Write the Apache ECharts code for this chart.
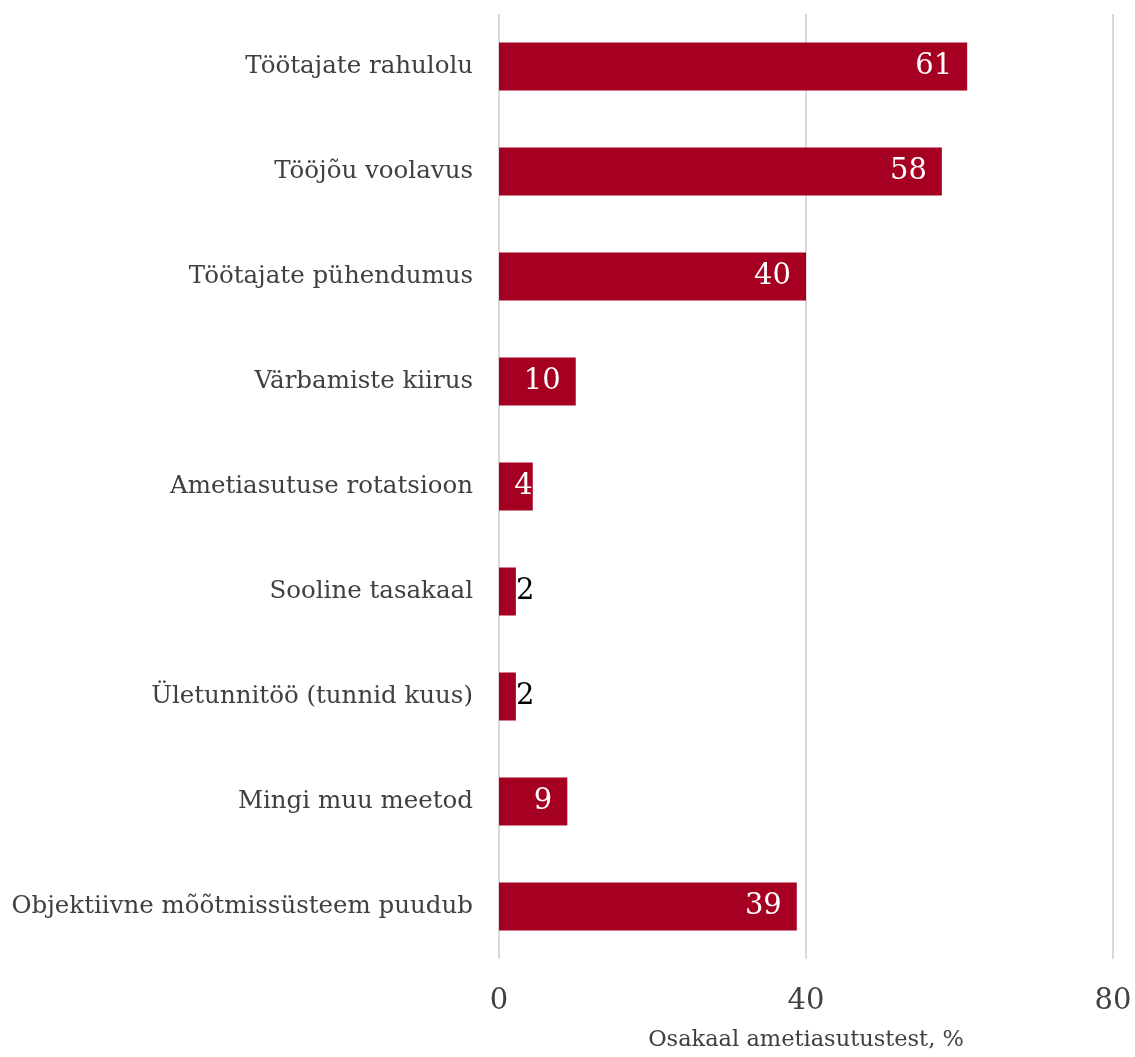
<!DOCTYPE html>
<html><head><meta charset="utf-8">
<script src="https://cdn.jsdelivr.net/npm/echarts@6/dist/echarts.min.js"></script>
<style>html,body{margin:0;padding:0;background:#fff}#c{width:1135px;height:1057px}</style>
</head><body><div id="c"></div>
<script>
const categories = ["Töötajate rahulolu","Tööjõu voolavus","Töötajate pühendumus","Värbamiste kiirus","Ametiasutuse rotatsioon","Sooline tasakaal","Ületunnitöö (tunnid kuus)","Mingi muu meetod","Objektiivne mõõtmissüsteem puudub"];
const values = [61, 57.7, 40, 10, 4.4, 2.2, 2.2, 8.9, 38.8];
const xTicks = [0, 40, 80];
const axisName = "Osakaal ametiasutustest, %";
const FONT = "DejaVu Serif";
const chart = echarts.init(document.getElementById('c'));
chart.setOption({
  animation:false,
  grid:{left:499,right:22,top:14,bottom:95,containLabel:false},
  xAxis:{type:'value',min:xTicks[0],max:xTicks[xTicks.length-1],interval:xTicks[1]-xTicks[0],
    name:axisName,nameLocation:'middle',nameGap:70,
    nameTextStyle:{fontFamily:FONT,fontSize:22.5,color:'#404040'},
    axisLine:{show:false},axisTick:{show:false},
    axisLabel:{fontFamily:FONT,fontSize:29,color:'#404040',margin:28},
    splitLine:{show:true,lineStyle:{color:'#d9d9d9',width:2}}},
  yAxis:{type:'category',data:categories,inverse:true,
    axisLine:{show:false},axisTick:{show:false},
    axisLabel:{fontFamily:FONT,fontSize:24.5,color:'#404040',margin:26}},
  series:[{type:'bar',barWidth:48,
    data:values.map(v=>({value:v,label:v<3?{position:'right',color:'#000',distance:0}:(v<5?{distance:0}:{})})),
    itemStyle:{color:'#a50021'},
    label:{show:true,position:'insideRight',distance:15,color:'#fff',fontFamily:FONT,fontSize:29,
      formatter:p=>Math.round(p.value)}}]
});
</script></body></html>
